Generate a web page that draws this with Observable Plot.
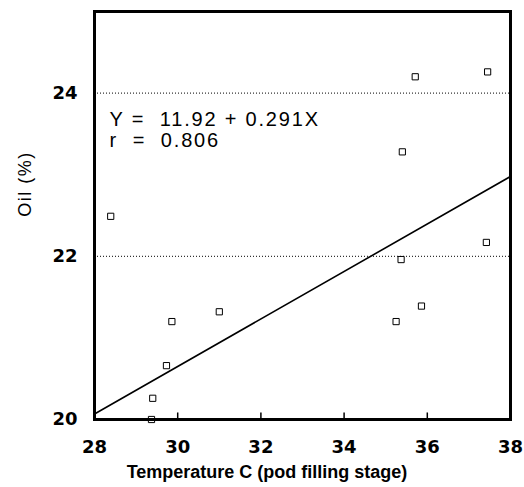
<!DOCTYPE html>
<html><head><meta charset="utf-8">
<script src="https://cdn.jsdelivr.net/npm/d3@7"></script>
<script src="https://cdn.jsdelivr.net/npm/@observablehq/plot@0.6"></script>
<style>
body{margin:0;background:#fff;}
#chart{position:absolute;left:0;top:0;}
</style>
</head><body><div id="chart"></div>
<script>
// Observations: temperature (C) during pod filling vs oil (%)
const temperature = [29.86, 37.45, 37.42, 35.71, 31.0, 29.4, 29.37, 28.39, 35.37, 35.86, 35.4, 35.25, 29.73];
const oil         = [21.2, 24.26, 22.17, 24.2, 21.32, 20.26, 20.0, 22.49, 21.96, 21.39, 23.28, 21.2, 20.66];
const xTicks = [28, 30, 32, 34, 36, 38];
const xInnerTicks = [30, 32, 34, 36];
const yTicks = [20, 22, 24];
const gridY = [22, 24];
const intercept = 11.92, slope = 0.291, r = 0.806;
const fitX = [28, 38];

const points = temperature.map((t, i) => ({t, o: oil[i]}));
const fit = fitX.map(x => ({x, y: intercept + slope * x}));

const chart = Plot.plot({
  width: 524, height: 487,
  marginLeft: 94, marginRight: 14, marginTop: 11, marginBottom: 68,
  style: {fontFamily: "DejaVu Sans", background: "#fff", color: "#000"},
  x: {domain: [28, 38]},
  y: {domain: [20, 25]},
  marks: [
    Plot.ruleY(gridY, {stroke: "#000", strokeWidth: 1, strokeDasharray: "1,2"}),
    Plot.ruleX(xInnerTicks, {y1: 20, y2: 20.08, stroke: "#000", strokeWidth: 1.5}),
    Plot.line(fit, {x: "x", y: "y", stroke: "#000", strokeWidth: 1.6}),
    Plot.dot(points, {x: "t", y: "o", symbol: "square", r: 3.5, stroke: "#000", strokeWidth: 1, fill: "none"}),
    Plot.axisX({ticks: xTicks, tickSize: 0, tickPadding: 21, fontSize: 18, fontWeight: "bold", label: null, tickFormat: d3.format("d")}),
    Plot.axisY({ticks: yTicks, tickSize: 0, tickPadding: 17, fontSize: 18, fontWeight: "bold", label: null, tickFormat: d3.format("d")}),
    Plot.text([`Y =  ${intercept.toFixed(2)} + ${slope}X`], {frameAnchor: "top-left", lineAnchor: "middle", dx: 15, dy: 108, fontSize: 20, textAnchor: "start", fontFamily: "Liberation Sans"}),
    Plot.text([`r  =  ${r}`], {frameAnchor: "top-left", lineAnchor: "middle", dx: 15, dy: 129.5, fontSize: 20, textAnchor: "start", fontFamily: "Liberation Sans"}),
    Plot.frame({stroke: "#000", strokeWidth: 3})
  ]
});
const svg = d3.select(chart);
svg.selectAll("text").filter(function(){ return this.textContent.startsWith("Y =") || this.textContent.startsWith("r "); })
  .style("letter-spacing", "1.8px");
svg.append("text").attr("x", 267).attr("y", 478).attr("text-anchor", "middle")
  .attr("font-family", "Liberation Sans").attr("font-weight", "bold").attr("font-size", 18).text("Temperature C (pod filling stage)");
svg.append("text").attr("transform", "translate(31,184) rotate(-90)").attr("text-anchor", "middle")
  .attr("font-family", "Liberation Sans").attr("font-size", 18).style("letter-spacing", "1.5px").text("Oil (%)");
document.getElementById("chart").append(chart);
</script>
</body></html>
